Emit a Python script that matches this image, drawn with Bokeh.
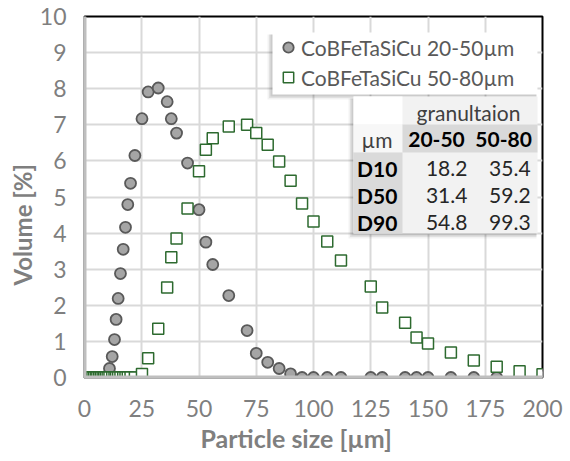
from bokeh.plotting import figure
from bokeh.models import (ColumnDataSource, Legend, LegendItem, BoxAnnotation,
                          Label, Span, FixedTicker, Range1d, Title)
from bokeh.embed import file_html
from bokeh.resources import INLINE

# ---------------- data ----------------
particle_size = [0.3, 0.8, 1.4, 2.0, 2.7, 3.4, 4.1, 4.9, 5.6, 6.4, 7.1, 7.9, 8.6, 9.3, 10.1,
                 10.9, 12.1, 13.1, 13.8, 14.7, 15.7, 16.9, 17.9, 18.9, 20.1, 22.0,
                 25.1, 27.8, 32.2, 36.1, 37.9, 40.2, 45.0, 50.0, 53.0, 56.0, 63.0, 71.0,
                 75.0, 80.0, 85.0, 90.0, 95.0, 100.0, 106.0, 112.0, 125.0, 130.0, 140.0,
                 145.0, 150.0, 160.0, 170.0, 180.0, 190.0, 200.0]

vol_20_50 = [0, 0, 0, 0, 0, 0, 0, 0, 0, 0, 0, 0, 0, 0, 0,
             0.25, 0.58, 1.05, 1.61, 2.19, 2.88, 3.55, 4.16, 4.79, 5.38, 6.15,
             7.17, 7.91, 8.02, 7.64, 7.17, 6.77, 5.94, 4.65, 3.75, 3.13, 2.27, 1.30,
             0.67, 0.42, 0.25, 0.10, 0, 0, 0, 0, 0, 0, 0,
             0, 0, 0, 0, 0, 0, 0]

vol_50_80 = [0, 0, 0, 0, 0, 0, 0, 0, 0, 0, 0, 0, 0, 0, 0,
             0, 0, 0, 0, 0, 0, 0, 0, 0, 0, 0,
             0.10, 0.53, 1.35, 2.49, 3.33, 3.85, 4.68, 5.71, 6.31, 6.63, 6.95, 7.00,
             6.77, 6.45, 5.98, 5.45, 4.82, 4.32, 3.77, 3.24, 2.52, 1.94, 1.52,
             1.11, 0.94, 0.69, 0.47, 0.30, 0.17, 0.09]

series_names = ["CoBFeTaSiCu 20-50µm", "CoBFeTaSiCu 50-80µm"]

x_ticks = [0, 25, 50, 75, 100, 125, 150, 175, 200]
y_ticks = [0, 1, 2, 3, 4, 5, 6, 7, 8, 9, 10]

x_title = "Particle size [µm]"
y_title = "Volume [%]"

table_title = "granultaion"
table_unit = "µm"
table_cols = ["20-50", "50-80"]
table_rows = ["D10", "D50", "D90"]
table_20_50 = ["18.2", "31.4", "54.8"]
table_50_80 = ["35.4", "59.2", "99.3"]

# ---------------- figure ----------------
FONT = "Lato"
GRAY_TXT = "#7f7f7f"
p = figure(width=570, height=461, x_range=Range1d(0, 200), y_range=Range1d(0, 10),
           output_backend="svg", toolbar_location=None,
           min_border_left=84, min_border_right=28, min_border_top=16, min_border_bottom=84)
p.outline_line_color = "black"
p.outline_line_width = 2
p.background_fill_color = "white"
p.border_fill_color = "white"

p.xaxis.ticker = FixedTicker(ticks=x_ticks)
p.yaxis.ticker = FixedTicker(ticks=y_ticks)
p.xgrid.ticker = FixedTicker(ticks=x_ticks)
p.ygrid.ticker = FixedTicker(ticks=y_ticks)
p.grid.grid_line_color = "#d9d9d9"
p.grid.grid_line_width = 2

p.axis.axis_line_color = "#bfbfbf"
p.axis.axis_line_width = 2.5
p.axis.major_tick_line_color = None
p.axis.minor_tick_line_color = None
p.axis.major_label_text_font = FONT
p.axis.major_label_text_font_size = "23px"
p.axis.major_label_text_color = GRAY_TXT
p.yaxis.major_label_standoff = 12
p.xaxis.major_label_standoff = 16

# axis titles as side titles (offset controls position along the axis)
p.add_layout(Title(text=x_title, align="left", offset=116, text_font=FONT,
                   text_font_size="25px", text_font_style="bold", text_color=GRAY_TXT,
                   standoff=2), "below")
p.add_layout(Title(text=y_title, align="left", offset=92, text_font=FONT,
                   text_font_size="24px", text_font_style="bold", text_color=GRAY_TXT,
                   standoff=0), "left")

# gray left / bottom axis edges over the black frame outline
p.add_layout(Span(location=0, dimension="height", line_color="#bfbfbf", line_width=4,
                  level="overlay"))
p.add_layout(Span(location=0, dimension="width", line_color="#bfbfbf", line_width=4,
                  level="overlay"))

src = ColumnDataSource(dict(x=particle_size, a=vol_20_50, b=vol_50_80))
r1 = p.scatter("x", "a", source=src, marker="circle", size=11,
               fill_color="#a5a5a5", line_color="#595959", line_width=1.8)
r2 = p.scatter("x", "b", source=src, marker="square", size=11,
               fill_color="white", line_color="#2d6a2f", line_width=1.5)

PX_X = 200.0 / 458.0   # data units per pixel (x)
PX_Y = 10.0 / 361.0    # data units per pixel (y)


def box(l, r, t, b, c, alpha=1.0):
    p.add_layout(BoxAnnotation(left=l, right=r, top=t, bottom=b, fill_color=c,
                               fill_alpha=alpha, line_color=None))


def shadow(l, r, t, b):
    for k, a in [(5, 0.05), (3.5, 0.07), (2, 0.09)]:
        box(l - k * PX_X, r - 1 * PX_X, t - 2 * PX_Y, b - k * PX_Y, "black", a)


# legend box (white panel with soft shadow) + legend items
LL, LR, LT, LB = 82.1, 197.8, 9.557, 7.839
shadow(LL, LR, LT, LB)
box(LL, LR, LT, LB, "white")
legend = Legend(items=[LegendItem(label=series_names[0], renderers=[r1]),
                       LegendItem(label=series_names[1], renderers=[r2])],
                location=(191, 287), label_text_font=FONT, label_text_font_size="21px",
                label_text_color="#595959", glyph_width=26, glyph_height=26,
                padding=4, spacing=4, label_standoff=-4, border_line_color=None,
                background_fill_alpha=0.0)
p.add_layout(legend)

# data table
XL, X1, X2, XR = 117.47, 138.86, 168.56, 197.82
YT, Y1, Y2, YB = 7.784, 7.008, 6.233, 3.989
shadow(XL, XR, YT, YB)
box(XL, XR, YT, YB, "#f2f2f2")
box(XL, X1, YT, Y1, "#ffffff")
box(XL, X1, Y1, Y2, "#f7f7f7")
box(X1, XR, Y1, Y2, "#d9d9d9")
box(XL, X1, Y2, YB, "#dadada")


def lab(x, y, t, align, bold=False, color="#262626"):
    p.add_layout(Label(x=x, y=y, text=t, text_align=align, text_baseline="middle",
                       text_font=FONT, text_font_size="21px",
                       text_font_style="bold" if bold else "normal", text_color=color))


lab(167.7, 7.33, table_title, "center", color="#404040")
lab(134.5, 6.60, table_unit, "right", color="#404040")
lab(153.7, 6.60, table_cols[0], "center", bold=True, color="black")
lab(183.0, 6.60, table_cols[1], "center", bold=True, color="black")
row_y = [5.80, 5.05, 4.28]
for i, name in enumerate(table_rows):
    lab(119.0, row_y[i], name, "left", bold=True, color="black")
    lab(167.2, row_y[i], table_20_50[i], "right")
    lab(194.8, row_y[i], table_50_80[i], "right")

open("out.html", "w").write(file_html(p, INLINE))
